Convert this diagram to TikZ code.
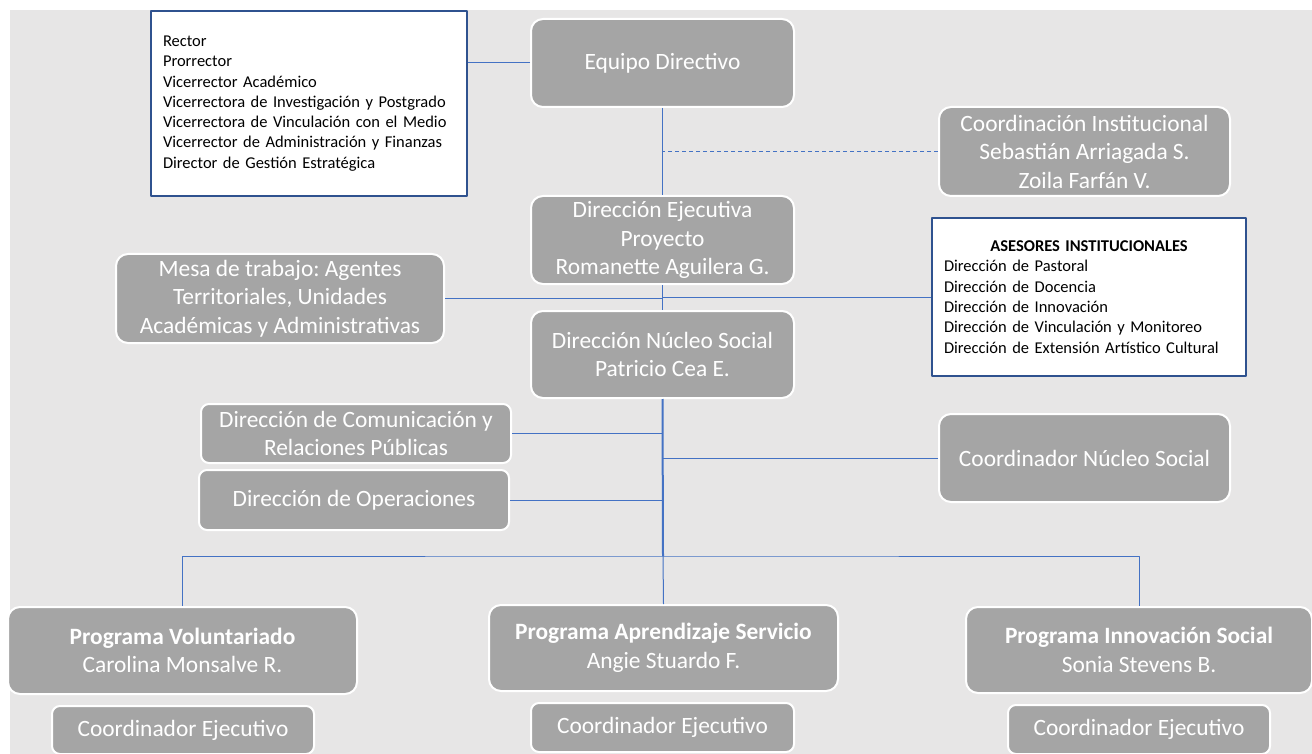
\documentclass[tikz,border=0pt]{standalone}
\usepackage{fontspec}
\setmainfont{Carlito}
\frenchspacing
\definecolor{fondo}{HTML}{E7E6E6}
\definecolor{grisCaja}{HTML}{A5A5A5}
\definecolor{azulLinea}{HTML}{4472C4}
\definecolor{azulMarco}{HTML}{2F528F}
\begin{document}
\begin{tikzpicture}[x=1pt,y=-1pt,line join=round,
	cargo/.style={draw=white,line width=2pt,fill=grisCaja,rounded corners=12pt,text=white,align=center,inner sep=2pt,font=\fontsize{23.4}{28.5}\selectfont},
	cargochico/.style={cargo,rounded corners=8pt},
	lista/.style={draw=azulMarco,line width=2pt,fill=white,inner xsep=12pt,font=\fontsize{16.5}{20.3}\selectfont},
	enlace/.style={draw=azulLinea,line width=1pt}]
	\useasboundingbox (0,0) rectangle (1312,754);
	\fill[fondo] (10,10) rectangle (1312,754);
	% cajas
	\node[lista,minimum width=316pt,minimum height=185pt,text width=292pt,align=left] (rectoria) at (309,103.5) {Rector\\Prorrector\\Vicerrector Académico\\Vicerrectora de Investigación y Postgrado\\Vicerrectora de Vinculación con el Medio\\Vicerrector de Administración y Finanzas\\Director de Gestión Estratégica};
	\node[cargo,minimum width=263pt,minimum height=88pt] (equipo) at (662.5,63) {Equipo Directivo};
	\node[cargo,minimum width=291pt,minimum height=89pt] (coordinst) at (1084.5,151.5) {Coordinación Institucional\\Sebastián Arriagada S.\\Zoila Farfán V.};
	\node[cargo,minimum width=263pt,minimum height=88pt] (ejecutiva) at (662.5,240) {Dirección Ejecutiva\\Proyecto\\Romanette Aguilera G.};
	\node[lista,minimum width=314pt,minimum height=158pt,text width=290pt] (asesores) at (1089,297) {\centering\textbf{ASESORES INSTITUCIONALES}\par\raggedright Dirección de Pastoral\\Dirección de Docencia\\Dirección de Innovación\\Dirección de Vinculación y Monitoreo\\Dirección de Extensión Artístico Cultural};
	\node[cargo,minimum width=328pt,minimum height=89pt] (mesa) at (280,298.5) {Mesa de trabajo: Agentes\\Territoriales, Unidades\\Académicas y Administrativas};
	\node[cargo,minimum width=263pt,minimum height=87pt] (nucleo) at (662.5,354.5) {Dirección Núcleo Social\\Patricio Cea E.};
	\node[cargochico,minimum width=310pt,minimum height=59pt] (comunic) at (356,433.5) {Dirección de Comunicación y\\Relaciones Públicas};
	\node[cargochico,minimum width=310pt,minimum height=60pt] (operac) at (354,500) {Dirección de Operaciones};
	\node[cargo,minimum width=291pt,minimum height=88pt] (coordns) at (1084.5,458) {Coordinador Núcleo Social};
	\node[cargo,minimum width=349pt,minimum height=87pt] (volunt) at (182.5,650.5) {\textbf{Programa Voluntariado}\\Carolina Monsalve R.};
	\node[cargo,minimum width=349pt,minimum height=86pt] (aprend) at (663.5,648) {\textbf{Programa Aprendizaje Servicio}\\Angie Stuardo F.};
	\node[cargo,minimum width=346pt,minimum height=86pt] (innov) at (1139,650) {\textbf{Programa Innovación Social}\\Sonia Stevens B.};
	\node[cargochico,minimum width=262pt,minimum height=48pt] (coordA) at (183,730) {Coordinador Ejecutivo};
	\node[cargochico,minimum width=263pt,minimum height=49pt] (coordB) at (662.5,727.5) {Coordinador Ejecutivo};
	\node[cargochico,minimum width=262pt,minimum height=49pt] (coordC) at (1139,729.5) {Coordinador Ejecutivo};
	\coordinate (bus) at (663,556);
	% conectores
	\draw[enlace] (equipo.west) -- (equipo.west -| rectoria.east);
	\draw[enlace] (equipo.south) -- (ejecutiva.north);
	\draw[enlace,dash pattern=on 4pt off 3pt] (coordinst.west) -- (coordinst.west -| equipo.south);
	\draw[enlace] (mesa.east) -- (mesa.east -| ejecutiva.south);
	\draw[enlace] (asesores.west) -- (asesores.west -| ejecutiva.south);
	\draw[enlace] (ejecutiva.south) -- (nucleo.north);
	\draw[enlace,line width=2pt] (nucleo.south) -- (bus);
	\draw[enlace] (comunic.east) -- (comunic.east -| nucleo.south);
	\draw[enlace] (operac.east) -- (operac.east -| nucleo.south);
	\draw[enlace] (coordns.west) -- (coordns.west -| nucleo.south);
	\draw[enlace] (volunt.north) |- (bus) -| (innov.north);
	\draw[enlace] (bus) -- (aprend.north);
\end{tikzpicture}
\end{document}
